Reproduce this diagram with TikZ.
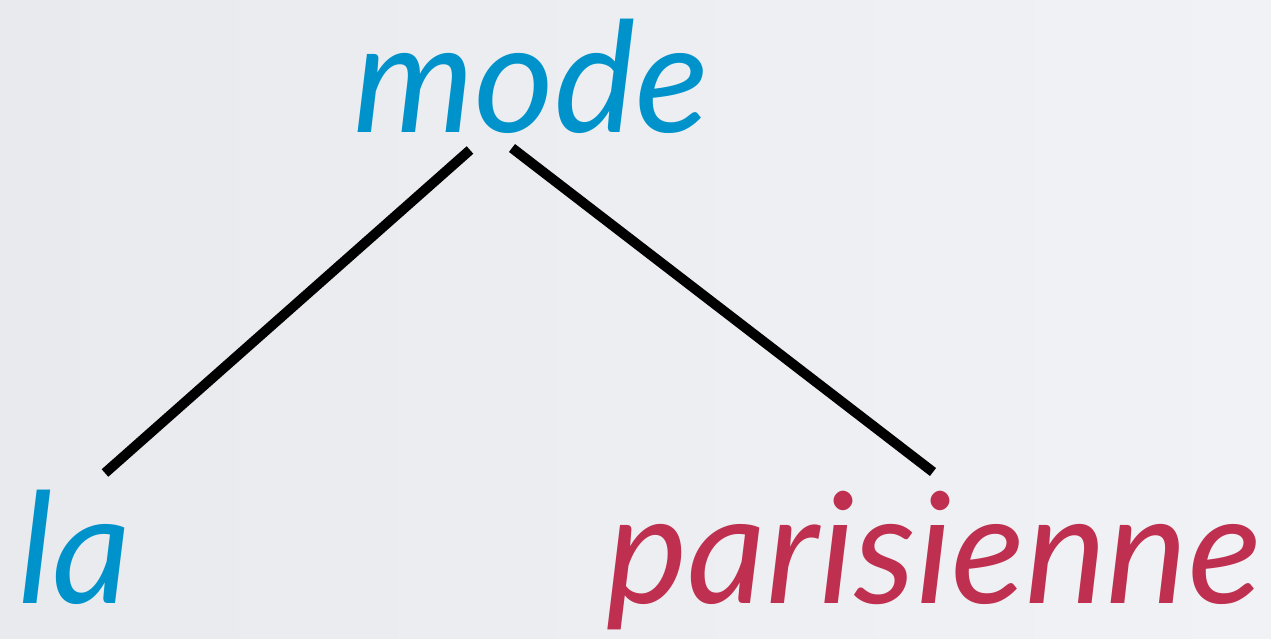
\documentclass[tikz,border=0pt]{standalone}
\usepackage{fontspec}
\setmainfont{Lato}
\definecolor{tblue}{HTML}{0093CB}
\definecolor{tred}{HTML}{BF2F4F}
\definecolor{bgl}{HTML}{E8EAED}
\definecolor{bgr}{HTML}{F1F2F5}
\begin{document}
\begin{tikzpicture}[x=1pt,y=-1pt,
  word/.style={inner sep=0pt,anchor=base west,font=\fontsize{154}{154}\selectfont\itshape},
  branch/.style={line width=10pt,black}]
\shade[left color=bgl,right color=bgr] (0,0) rectangle (1271,639);
\useasboundingbox (0,0) rectangle (1271,639);
\node[word,text=tblue] (mode) at (353,133) {mode};
\node[word,text=tblue] (la) at (18,603) {la};
\node[word,text=tred] (par) at (606,603) {parisienne};
\coordinate (m1) at (470,150);
\coordinate (m2) at (512,148);
\coordinate (l1) at (105,473);
\coordinate (p1) at (933,472);
\draw[branch] (m1) -- (l1);
\draw[branch] (m2) -- (p1);
\end{tikzpicture}
\end{document}
